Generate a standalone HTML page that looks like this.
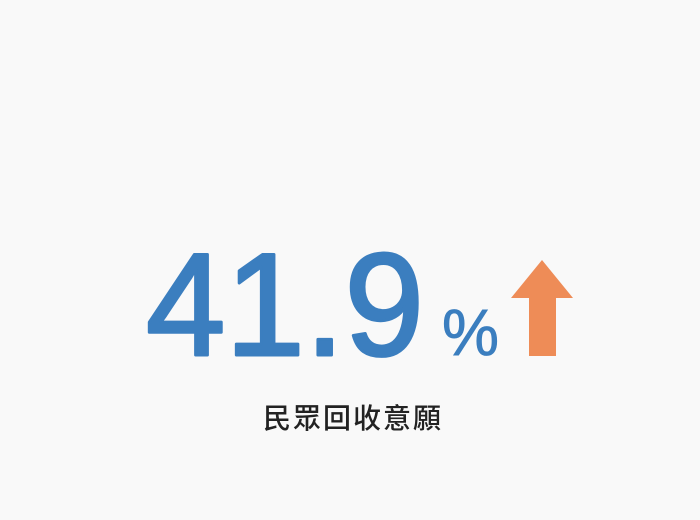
<!DOCTYPE html>
<html>
<head>
<meta charset="utf-8">
<style>
  html,body{margin:0;padding:0;background:#f9f9f9;}
  #wrap{position:relative;width:700px;height:520px;background:#f9f9f9;overflow:hidden;}
  svg{position:absolute;left:0;top:0;}
</style>
</head>
<body>
<div id="wrap">
<svg width="700" height="520" viewBox="0 0 700 520">
  <text x="146" y="355" textLength="278" lengthAdjust="spacingAndGlyphs" font-family="Liberation Sans, sans-serif" font-size="146" fill="#3b7ebf" stroke="#3b7ebf" stroke-width="3" stroke-linejoin="round">41.9</text>
  <text x="442" y="355" textLength="57" lengthAdjust="spacingAndGlyphs" font-family="Liberation Sans, sans-serif" font-size="66" fill="#3b7ebf" stroke="#3b7ebf" stroke-width="0.8">%</text>
  <polygon points="542,260 573,298 556,298 556,356 529,356 529,298 511,298" fill="#ee8c57"/>
  <text x="353" y="428" text-anchor="middle" font-family="Liberation Sans, 'Noto Sans CJK TC', sans-serif" font-weight="500" font-size="28" letter-spacing="2" fill="#222">民眾回收意願</text>
</svg>
</div>
</body>
</html>
